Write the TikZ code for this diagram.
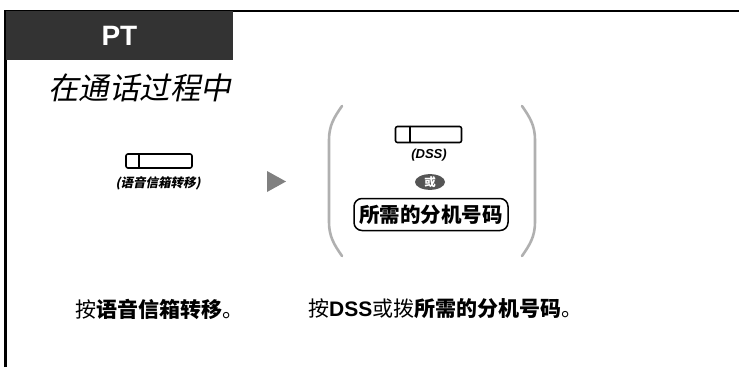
\documentclass[tikz,border=0pt]{standalone}
\usepackage{fontspec}
\usetikzlibrary{shapes.geometric}
\setmainfont{Liberation Sans}
\newfontfamily\lat{Liberation Sans}
\newfontfamily\cjk{Noto Sans CJK SC}
\newfontfamily\cjkit[FakeSlant=0.2]{Noto Sans CJK SC}
\definecolor{hdrgray}{HTML}{333333}
\definecolor{arrgray}{HTML}{808080}
\definecolor{brgray}{HTML}{B0B0B0}
\definecolor{orgray}{HTML}{555555}
\tikzset{
  keybox/.style={draw, line width=1.6pt, rounded corners=2pt, inner sep=0pt},
  bracket/.style={draw=brgray, line width=2.6pt, line cap=round},
  txt/.style={inner sep=0pt, anchor=west}
}
\begin{document}
\begin{tikzpicture}[x=1pt,y=-1pt]
\useasboundingbox (0,0) rectangle (739,367);
\fill[white] (0,0) rectangle (739,367);
% frame
\draw[line width=2.5pt] (5.5,367) -- (5.5,11) -- (739,11);
% header
\node[fill=hdrgray, minimum width=227.5pt, minimum height=49pt, inner sep=0pt, anchor=north west,
      text=white, font=\lat\bfseries\fontsize{28}{28}\selectfont] (hdr) at (5.5,11) {PT};
% title
\node[txt, font=\cjkit\fontsize{30.5}{30}\selectfont] (title) at (48,88) {在通话过程中};
% key 1
\node[keybox, minimum width=66pt, minimum height=14pt] (k1) at (159,161) {};
\draw[line width=1.6pt] ([xshift=14pt]k1.north west) -- ([xshift=14pt]k1.south west);
\node[font=\cjkit\bfseries\fontsize{12.5}{12}\selectfont, inner sep=0pt] (l1) at (158,183) {(语音信箱转移)};
% arrow
\fill[arrgray] (267,171) -- (286,181.5) -- (267,192) -- cycle;
% brackets
\draw[bracket] (342,106) to[out=235,in=90] (329,140) -- (329,222) to[out=-90,in=125] (342,256);
\draw[bracket] (522,106) to[out=-55,in=90] (535,140) -- (535,222) to[out=-90,in=55] (522,256);
% DSS key
\node[keybox, minimum width=66pt, minimum height=16pt] (k2) at (428.5,134.5) {};
\draw[line width=1.6pt] ([xshift=15pt]k2.north west) -- ([xshift=15pt]k2.south west);
\node[font=\lat\bfseries\itshape\fontsize{13}{13}\selectfont, inner sep=0pt] (dss) at (429,155) {(DSS)};
% or
\node[ellipse, fill=orgray, minimum width=30pt, minimum height=13pt, inner sep=0pt, text=white,
      font=\cjk\bfseries\fontsize{11.5}{11}\selectfont] (or) at (430,182) {或};
% extension box
\node[draw, rounded corners=8pt, line width=1.5pt, minimum width=154pt, minimum height=32pt, inner sep=0pt,
      font=\cjk\bfseries\fontsize{20.5}{20}\selectfont] (ext) at (431,214.5) {所需的分机号码};
% bottom texts
\node[txt, font=\cjk\fontsize{21}{21}\selectfont] (s1) at (75,309) {按{\bfseries 语音信箱转移}。};
\node[txt, font=\cjk\fontsize{21}{21}\selectfont] (s2) at (308,309) {按{\lat\bfseries DSS}或拨{\bfseries 所需的分机号码}。};
\end{tikzpicture}
\end{document}
